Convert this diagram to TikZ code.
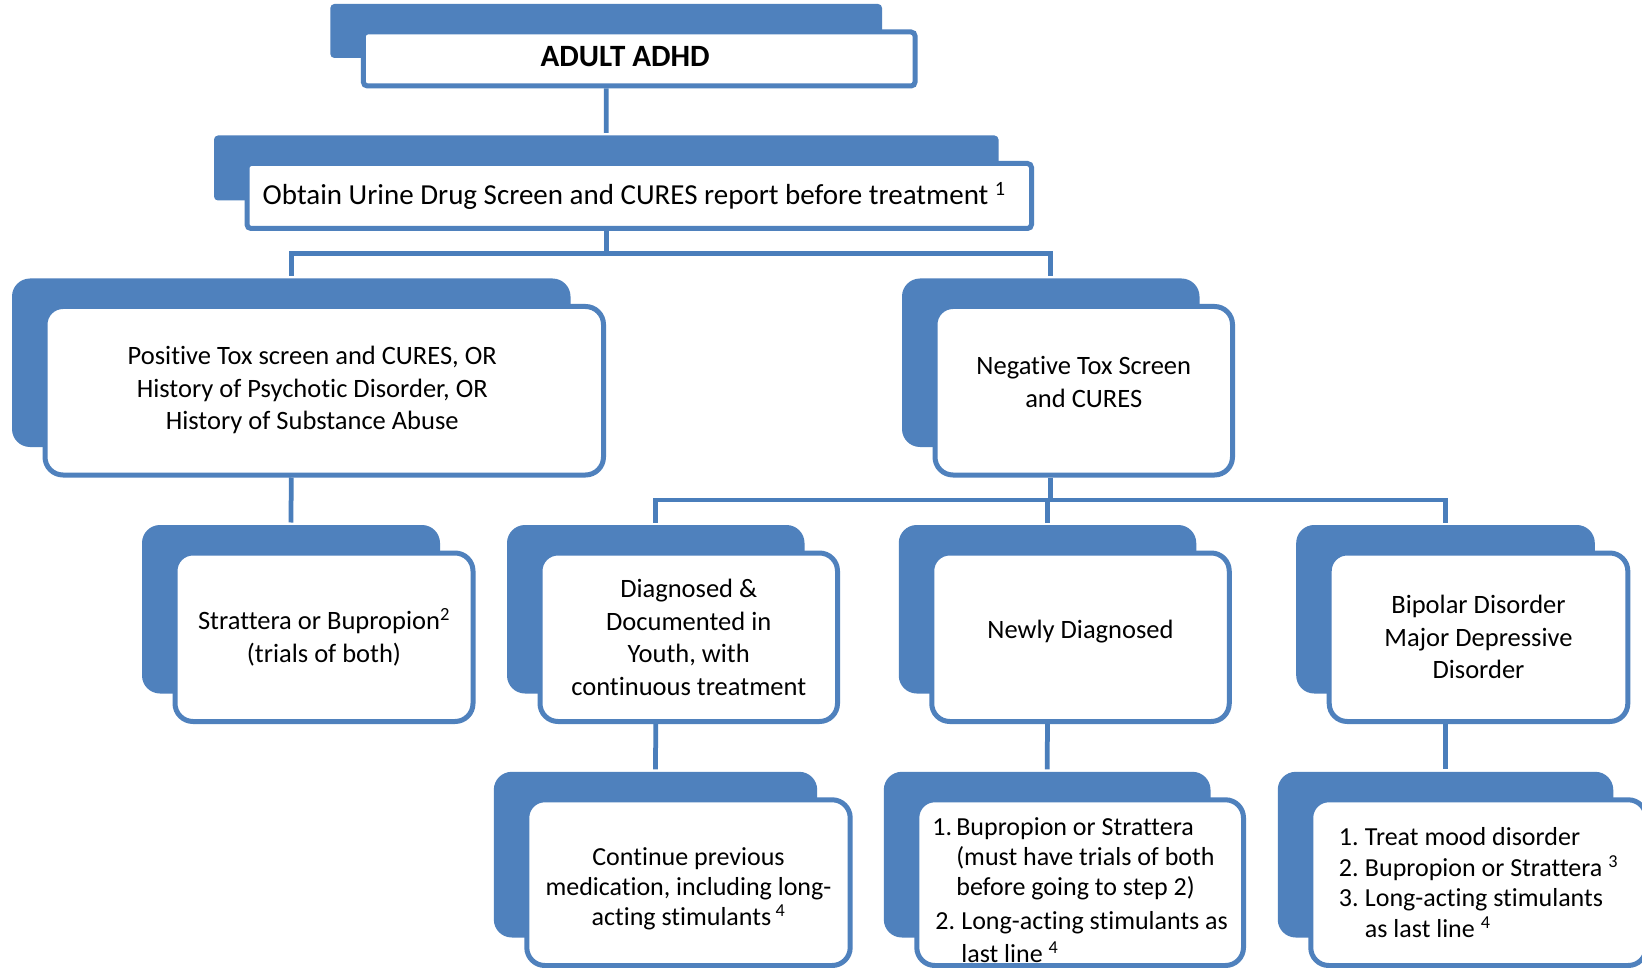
\documentclass[tikz,border=0pt]{standalone}
\usepackage{fontspec}
\setmainfont{Carlito}[Ligatures={TeX,NoCommon}]
\usepackage{tikz}
\usetikzlibrary{shadows}
\definecolor{boxblue}{HTML}{4F81BD}
\definecolor{linkblue}{HTML}{4A7EBB}

\begin{document}
\begin{tikzpicture}[x=1pt,y=-1pt,
  card/.style={draw=boxblue,line width=5pt,fill=white,rounded corners=18pt,align=center,inner sep=0pt,
    font={\fontsize{26.5}{32.5}\selectfont},minimum height=168.5pt,
    general shadow={fill=boxblue,shadow xshift=-33pt,shadow yshift=28pt}},
  bar/.style={card,rounded corners=4pt},
  low/.style={card,minimum height=165.7pt,font={\fontsize{26}{30}\selectfont}},
  link/.style={draw=linkblue,line width=4.75pt}]

\useasboundingbox[fill=white] (0,0) rectangle (1642,968);

\node[bar,minimum width=551.7pt,minimum height=54pt,text depth=6pt,font={\fontsize{31}{36}\selectfont\bfseries}] (1) at (639.2,59){ADULT ADHD\hspace*{28pt}};
\node[bar,minimum width=784.5pt,minimum height=65pt,font={\fontsize{29}{34}\selectfont}] (2) at (639.25,196){Obtain Urine Drug Screen and CURES report before treatment \textsuperscript{1}\hspace*{10pt}};
\node[card,minimum width=558.5pt] (3) at (324.25,390.75){\begin{tabular}{@{}c@{}}Positive Tox screen and CURES, OR\\History of Psychotic Disorder, OR\\History of Substance Abuse\end{tabular}\hspace*{24pt}};
\node[card,minimum width=297.5pt] (4) at (1083.75,390.75){Negative Tox Screen\\and CURES\rule[-18pt]{0pt}{0pt}};
\node[card,minimum width=298pt] (5) at (324,637.25){Strattera or Bupropion\textsuperscript{2}\\(trials of both)};
\node[card,minimum width=297.5pt] (6) at (688.75,637.25){Diagnosed \&\\Documented in\\Youth, with\\continuous treatment};
\node[card,minimum width=297.5pt,text depth=16pt] (7) at (1080.5,637.25){Newly Diagnosed};
\node[card,minimum width=298.6pt] (8) at (1478.5,637.25){Bipolar Disorder\\Major Depressive\\Disorder};
\node[low,minimum width=323.4pt] (9) at (688.5,882.65){\rule{0pt}{31pt}Continue previous\\medication, including long-\\acting stimulants\,\textsuperscript{4}};
\node[low,minimum width=326.7pt,align=left] (10) at (1080.15,882.65){\rule{0pt}{32pt}\makebox[24pt][l]{1.}Bupropion or Strattera\\\hspace*{24pt}(must have trials of both\\\hspace*{24pt}before going to step 2)\\[4pt]\hspace*{3pt}\makebox[26pt][l]{2.}Long-acting stimulants as\\[3pt]\hspace*{29pt}last line \textsuperscript{4}};
\node[low,minimum width=335.5pt,align=left,font={\fontsize{26}{30.5}\selectfont}] (11) at (1478.5,882.65){\makebox[26pt][l]{1.}Treat mood disorder\\\makebox[26pt][l]{2.}Bupropion or Strattera \textsuperscript{3}\\\makebox[26pt][l]{3.}Long-acting stimulants\\\hspace*{26pt}as last line \textsuperscript{4}};

\draw[link] ([xshift=-33pt]1.south) -- ([shift={(-33pt,28pt)}]2.north);
\draw[link] ([xshift=-33pt]2.south) -- ++(0,22.5);
\draw[link] ([shift={(-33pt,28pt)}]3.north) |- ([xshift=-33pt,yshift=-22.5pt]2.south) -| ([shift={(-33pt,28pt)}]4.north);
\draw[link] ([xshift=-33pt]3.south) -- ([shift={(-33pt,28pt)}]5.north);
\draw[link] ([xshift=-33pt]4.south) -- ++(0,22.5);
\draw[link] ([shift={(-33pt,28pt)}]6.north) |- ([xshift=-33pt,yshift=-22.5pt]4.south) -| ([shift={(-33pt,28pt)}]8.north);
\draw[link] ([shift={(-33pt,28pt)}]7.north) -- ++(0,-22.5);
\draw[link] ([xshift=-33pt]6.south) -- ([shift={(-33pt,28pt)}]9.north);
\draw[link] ([xshift=-33pt]7.south) -- ([shift={(-33pt,28pt)}]10.north);
\draw[link] ([xshift=-33pt]8.south) -- ([shift={(-33pt,28pt)}]11.north);

\end{tikzpicture}
\end{document}
